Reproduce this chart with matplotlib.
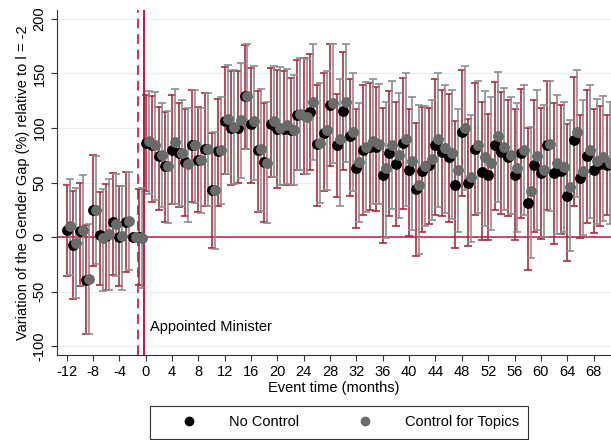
import numpy as np
import matplotlib
matplotlib.use("Agg")
import matplotlib.pyplot as plt
from matplotlib.lines import Line2D

plt.rcParams['font.family'] = ['Liberation Sans', 'DejaVu Sans']

# meses del evento
meses = list(range(-12, 71))

# serie sin control (puntos negros, barras rojas)
sinControl = [6.5, -7, 5.5, -39, 25, 2, 1.5, 14, 0.5, 14, 0, 0,
              86, 84, 74, 65, 80, 77, 69, 84, 71, 81, 43, 79, 106, 100, 100, 129,
              104, 80, 69, 104, 99, 99, 98, 112, 112, 115, 85, 95, 121, 84, 116, 93,
              63, 80, 83, 83, 57, 77, 67, 86, 62, 44, 61, 66, 84, 78, 73, 48,
              96, 50, 81, 60, 57, 84, 78, 73, 57, 77, 31, 66, 59, 84, 59, 61,
              38, 89, 54, 74, 62, 67, 66]
sinControlBajo = [-36, -57, -45, -89, -26, -44, -48, -35, -45, -32, np.nan, -44,
                  42, 32, 25, 14, 30, 28, 19, 32, 23, 29, -10, 29, 58, 48, 50, 81,
                  50, 23, 14, 55, 45, 48, 48, 62, 58, 62, 29, 42, 65, 37, 62, 38,
                  8, 20, 25, 24, -5, 19, 10, 26, 1, -17, 5, 12, 20, 19, 14, -10,
                  38, -8, 20, -3, -3, 25, 21, 19, -3, 18, -30, 5, -2, 25, -6, 3,
                  -22, 29, -1, 13, 4, 10, 20]
sinControlAlto = [48, 42, 50, 11, 75, 41, 49, 59, 47, 60, np.nan, 44,
                  130, 129, 119, 115, 130, 123, 117, 135, 119, 132, 95, 127, 156, 152, 152, 176,
                  155, 134, 123, 155, 153, 152, 146, 162, 164, 168, 139, 150, 177, 131, 170, 145,
                  117, 139, 141, 138, 118, 134, 124, 146, 117, 105, 119, 118, 145, 135, 131, 106,
                  153, 108, 141, 124, 113, 142, 133, 126, 117, 136, 100, 126, 118, 143, 123, 121,
                  104, 147, 112, 135, 117, 120, 112]

# serie con control por temas (puntos grises, barras grises)
conControl = [10, -5, 7, -38, 24.5, -0.5, 2.5, 12.5, 1, 15, 0, -0.5,
              88, 84, 75, 65, 87, 77, 67, 84, 71, 81, 43, 80, 108, 101, 107, 129,
              106, 81, 68, 106, 100, 103, 98, 113, 110, 124, 86, 98, 123, 90, 124, 96,
              69, 83, 88, 85, 63, 84, 75, 90, 70, 48, 65, 72, 90, 82, 77, 62,
              100, 55, 84, 73, 68, 93, 83, 75, 63, 80, 42, 74, 62, 85, 68, 64,
              46, 96, 61, 80, 70, 73, 68]
conControlBajo = [-35, -56, -44, -89, -25, -49, -48, -36, -48, -30, np.nan, -47,
                  40, 34, 28, 13, 30, 29, 14, 31, 22, 29, -11, 30, 58, 49, 54, 81,
                  52, 24, 13, 55, 48, 49, 48, 62, 58, 71, 31, 43, 68, 29, 69, 42,
                  14, 23, 30, 30, -1, 26, 18, 29, 7, -15, 10, 16, 28, 22, 17, 5,
                  43, -4, 22, 10, 7, 32, 25, 21, 5, 20, -19, 7, 0, 24, 3, 5,
                  -13, 37, 2, 18, 12, 15, 12]
conControlAlto = [53, 45, 57, 12, 74, 44, 53, 58, 47, 60, np.nan, 45,
                  134, 133, 123, 116, 136, 126, 118, 135, 118, 132, 96, 128, 158, 153, 160, 177,
                  157, 136, 124, 157, 156, 154, 149, 164, 163, 177, 141, 152, 177, 145, 177, 150,
                  123, 142, 145, 140, 124, 143, 132, 150, 128, 121, 120, 126, 150, 139, 135, 117,
                  157, 112, 143, 134, 128, 151, 137, 128, 123, 139, 101, 135, 121, 143, 130, 124,
                  107, 153, 126, 139, 127, 129, 124]

ticksX = list(range(-12, 69, 4))
ticksY = [-100, -50, 0, 50, 100, 150, 200]

x = np.array(meses, dtype=float)
rojo = '#b02a3e'
gris = '#8e8e8e'

fig = plt.figure(figsize=(6.11, 4.40), dpi=100)
ax = fig.add_axes([0.093, 0.193, 0.907, 0.784])

for y in ticksY:
    ax.axhline(y, color='#e6eff1', lw=0.8, zorder=0)

#barras de error de cada serie
b = np.array(sinControl, dtype=float)
g = np.array(conControl, dtype=float)
errB = [b - np.array(sinControlBajo), np.array(sinControlAlto) - b]
errG = [g - np.array(conControlBajo), np.array(conControlAlto) - g]
ax.errorbar(x, b, yerr=errB, fmt='none', ecolor=rojo, elinewidth=1.2, capsize=3.2, capthick=1.2, zorder=2)
ax.errorbar(x + 0.45, g, yerr=errG, fmt='none', ecolor=gris, elinewidth=1.2, capsize=3.2, capthick=1.2, zorder=2)

ax.axhline(0, color='#c0163e', lw=1.1, zorder=1)
ax.axvline(-1.2, color='#e0284c', lw=1.4, ls=(0, (5, 3)), zorder=1)
ax.axvline(-0.2, color='#c0163e', lw=1.4, zorder=1)

ax.plot(x, b, 'o', color='black', ms=6.8, zorder=3)
ax.plot(x + 0.45, g, 'o', color='#6a6a6a', ms=6.8, zorder=4)

ax.text(0.6, -82, 'Appointed Minister', fontsize=10.5, va='center', ha='left')

ax.set_xlim(-13.5, 70.65)
ax.set_ylim(-108, 208)
ax.set_xticks(ticksX)
ax.set_xticklabels([str(t) for t in ticksX], fontsize=10.5)
ax.set_yticks(ticksY)
ax.set_yticklabels([str(t) for t in ticksY], fontsize=10.5, rotation=90, va='center')
ax.tick_params(direction='out', length=4, width=0.8, color='#333333')
for lado in ['top', 'right']:
    ax.spines[lado].set_visible(False)
ax.spines['left'].set_color('#333333')
ax.spines['bottom'].set_color('#333333')
ax.set_xlabel('Event time (months)', fontsize=10.5, labelpad=1)
ax.set_ylabel('Variation of the Gender Gap (%) relative to l = -2', fontsize=10.5, labelpad=2)

#leyenda abajo
manijas = [Line2D([], [], ls='none', marker='o', color='black', ms=6),
           Line2D([], [], ls='none', marker='o', color='#6a6a6a', ms=6)]
leg = fig.legend(manijas, ['No Control', 'Control for Topics'], loc='center',
                 bbox_to_anchor=(0.555, 0.04), ncol=2, fontsize=10.5, frameon=True,
                 fancybox=False, edgecolor='black', columnspacing=2.4, handlelength=4.1,
                 handletextpad=0.7, borderpad=0.65)
leg.get_frame().set_linewidth(0.8)

fig.savefig('out.png', dpi=100)
